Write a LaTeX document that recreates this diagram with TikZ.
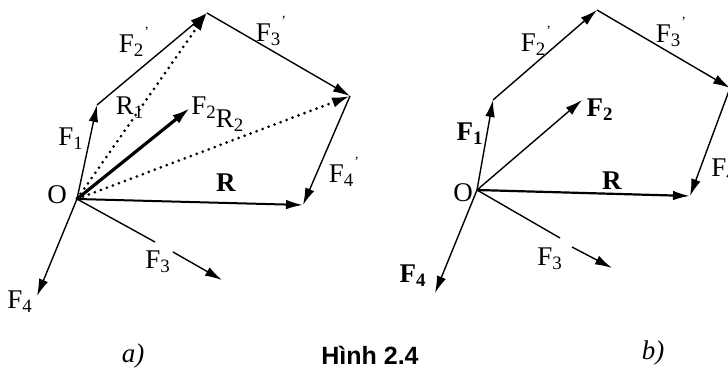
\documentclass[tikz,border=0pt]{standalone}
\usepackage{fontspec}
\setmainfont{Liberation Serif}
\newfontfamily\capfont{Liberation Sans}
\usetikzlibrary{arrows.meta}
\newcommand{\Fv}[1]{F\textsubscript{#1}}
\newcommand{\Fp}[1]{F\textsubscript{#1}\raisebox{1.3ex}{\scriptsize '}}
\tikzset{vec/.style={line width=0.7pt, -{Latex[length=8.5pt,width=4.8pt]}},
  bigvec/.style={line width=1.6pt, -{Latex[length=9pt,width=5.2pt]}},
  dotvec/.style={line width=1.5pt, dash pattern=on 0pt off 3.2pt, line cap=round, -{Latex[length=9pt,width=5.2pt]}},
  lbl/.style={font=\fontsize{13.5}{15}\selectfont, inner sep=0pt}}
\begin{document}
\begin{tikzpicture}[x=0.5pt, y=-0.5pt]
\useasboundingbox (0,0) rectangle (728,368);
% a) polygon of forces with partial resultants
\coordinate (Oa) at (77,199);
\coordinate (A1) at (97,105);
\coordinate (A2) at (207,13);
\coordinate (A3) at (350,96);
\coordinate (A4) at (303,205);
\coordinate (F2a) at (190,108);
\coordinate (G3a) at (155,242);
\coordinate (H3a) at (173,252);
\coordinate (F3a) at (222,280);
\coordinate (F4a) at (37,296);
\draw[vec] (Oa) -- (A1);
\draw[vec] (A1) -- (A2);
\draw[vec] (A2) -- (A3);
\draw[vec] (A3) -- (A4);
\draw[vec, line width=1pt] (Oa) -- (A4);
\draw[dotvec] (Oa) -- (A2);
\draw[dotvec] (Oa) -- (A3);
\draw[bigvec] (Oa) -- (F2a);
\draw[line width=0.7pt] (Oa) -- (G3a);
\draw[vec] (H3a) -- (F3a);
\draw[vec] (Oa) -- (F4a);
\node[lbl] (lOa) at (57,195) {O};
\node[lbl] (lF1a) at (71,139) {\Fv{1}};
\node[lbl] (lF2pa) at (134,42) {\Fp{2}};
\node[lbl] (lR1) at (130,108) {R\textsubscript{1}};
\node[lbl] (lF2a) at (204,108) {\Fv{2}};
\node[lbl] (lR2) at (230,121) {R\textsubscript{2}};
\node[lbl] (lF3pa) at (271,31) {\Fp{3}};
\node[lbl] (lF4pa) at (344,172) {\Fp{4}};
\node[lbl] (lRa) at (226,183) {\textbf{R}};
\node[lbl] (lF3a) at (158,262) {\Fv{3}};
\node[lbl] (lF4a) at (20,302) {\Fv{4}};
% b) polygon of forces, closing side only
\coordinate (Ob) at (477,190);
\coordinate (B1) at (493,100);
\coordinate (B2) at (597,10);
\coordinate (B3) at (730,88);
\coordinate (B4) at (690,196);
\coordinate (F2b) at (582,100);
\coordinate (G3b) at (560,238);
\coordinate (H3b) at (572,247);
\coordinate (F3b) at (612,268);
\coordinate (F4b) at (435,293);
\draw[vec] (Ob) -- (B1);
\draw[vec] (B1) -- (B2);
\draw[vec] (B2) -- (B3);
\draw[vec] (B3) -- (B4);
\draw[vec, line width=1.1pt] (Ob) -- (B4);
\draw[vec] (Ob) -- (F2b);
\draw[line width=0.7pt] (Ob) -- (G3b);
\draw[vec] (H3b) -- (F3b);
\draw[vec] (Ob) -- (F4b);
\node[lbl] (lOb) at (463,193) {O};
\node[lbl] (lF1b) at (470,134) {\textbf{\Fv{1}}};
\node[lbl] (lF2pb) at (536,41) {\Fp{2}};
\node[lbl] (lF2b) at (600,110) {\textbf{\Fv{2}}};
\node[lbl] (lF3pb) at (671,32) {\Fp{3}};
\node[lbl, anchor=west] (lF4pb) at (711,166) {\Fp{4}};
\node[lbl] (lRb) at (612,181) {\textbf{R}};
\node[lbl] (lF3b) at (550,259) {\Fv{3}};
\node[lbl] (lF4b) at (413,276) {\textbf{\Fv{4}}};
% captions
\node[lbl] (capa) at (133,356) {\itshape a)};
\node[font=\capfont\bfseries\fontsize{12.5}{14}\selectfont, inner sep=0pt] (cap) at (370,355) {Hình 2.4};
\node[lbl] (capb) at (653,353) {\itshape b)};
\end{tikzpicture}
\end{document}
